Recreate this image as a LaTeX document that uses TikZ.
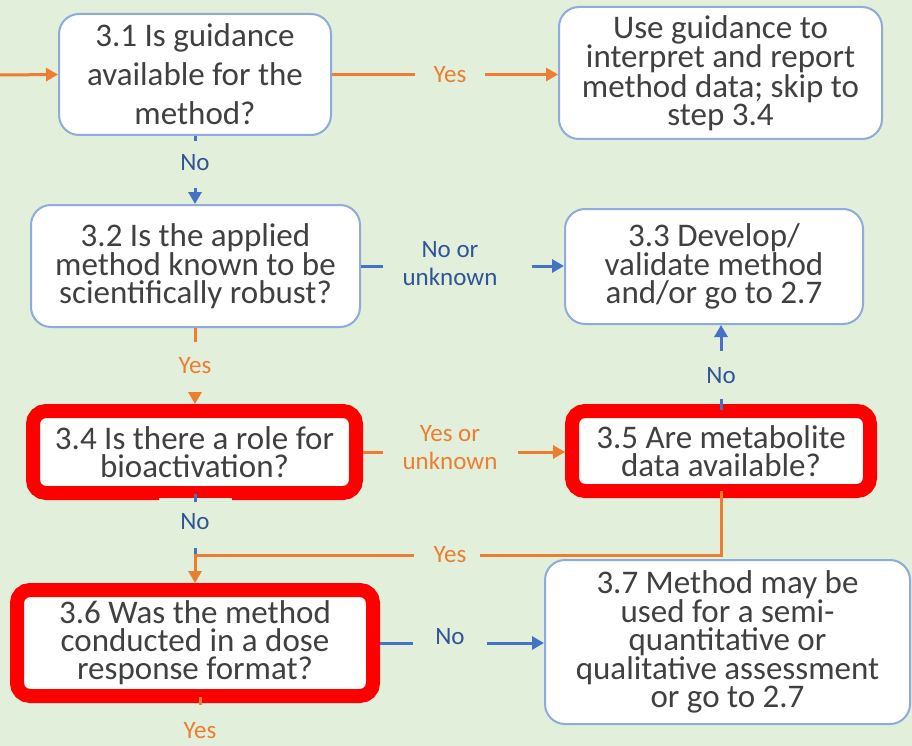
\documentclass[tikz,border=0pt]{standalone}
\usepackage{fontspec}
\setmainfont{Carlito}
\usetikzlibrary{arrows.meta}
\definecolor{bgcol}{HTML}{E2EFDA}
\definecolor{boxline}{HTML}{8FAADC}
\definecolor{txtgray}{HTML}{404040}
\definecolor{orng}{HTML}{ED7D31}
\definecolor{blu}{HTML}{4472C4}
\definecolor{blutxt}{HTML}{2F5597}
\definecolor{hotred}{HTML}{FF0000}

\begin{document}
\begin{tikzpicture}[x=1pt,y=-1pt,
  every node/.style={font=\fontsize{33}{28}\selectfont, text=txtgray, align=center, inner sep=0pt},
  bluebox/.style={draw=boxline, line width=2pt, fill=white, rounded corners=20pt, outer sep=1pt},
  redbox/.style={draw=hotred, line width=14pt, fill=white, rounded corners=13pt, outer sep=7pt},
  olbl/.style={font=\fontsize{25}{28}\selectfont, text=orng},
  blbl/.style={font=\fontsize{25}{28}\selectfont, text=blutxt},
  oline/.style={draw=orng, line width=3pt},
  bline/.style={draw=blu, line width=3pt},
  oarrow/.style={oline, -{Triangle[length=12pt,width=13pt]}},
  barrow/.style={bline, -{Triangle[length=12pt,width=13pt]}},
]
% canvas
\fill[bgcol] (0,0) rectangle (912,746);
\useasboundingbox (0,0) rectangle (912,746);

% decision and action boxes
\node[bluebox, minimum width=272pt, minimum height=121pt,
      font=\fontsize{33}{39}\selectfont] (b31) at (195,74.5)
  {3.1 Is guidance\\available for the\\method?};
\node[bluebox, minimum width=323pt, minimum height=132pt] (bg) at (720.5,73)
  {Use guidance to\\interpret and report\\method data; skip to\\step 3.4};
\node[bluebox, minimum width=329pt, minimum height=122pt] (b32) at (195.5,266)
  {3.2 Is the applied\\method known to be\\scientifically robust?};
\node[bluebox, minimum width=298pt, minimum height=115pt] (b33) at (714,266.5)
  {3.3 Develop/\\validate method\\and/or go to 2.7};
\node[redbox, minimum width=323pt, minimum height=82pt] (b34) at (194.5,452)
  {3.4 Is there a role for\\bioactivation?};
\node[redbox, minimum width=298pt, minimum height=80pt] (b35) at (721,451)
  {3.5 Are metabolite\\data available?};
\node[redbox, minimum width=356pt, minimum height=106pt] (b36) at (195,643)
  {3.6 Was the method\\conducted in a dose\\response format?};
\node[bluebox, minimum width=365pt, minimum height=164pt] (b37) at (727.5,642)
  {3.7 Method may be\\used for a semi-\\quantitative or\\qualitative assessment\\or go to 2.7};

% gap in the lower edge of box 3.4
\fill[bgcol] (159,498) rectangle (232,500.5);

% connector break points
\coordinate (in) at (0,75);
\coordinate (c1a) at (415,74.5);
\coordinate (c1b) at (485,74.5);
\coordinate (c2a) at (195,141);
\coordinate (c2b) at (195,188);
\coordinate (c3a) at (383,266);
\coordinate (c3b) at (532,266);
\coordinate (c4a) at (195,342);
\coordinate (c4b) at (195,392);
\coordinate (c5a) at (383,452);
\coordinate (c5b) at (518,452);
\coordinate (c6a) at (721,399);
\coordinate (c6b) at (721,351);
\coordinate (c7a) at (195,494);
\coordinate (c7b) at (195,548);
\coordinate (c7c) at (195,556);
\coordinate (c8a) at (480,555);
\coordinate (c8b) at (414,555);
\coordinate (c9a) at (413,643);
\coordinate (c9b) at (487,643);
\coordinate (c10a) at (200,697);
\coordinate (c10b) at (200,705);

% branch labels
\node[olbl] (l1) at (450,75) {Yes};
\node[blbl] (l2) at (195,163) {No};
\node[blbl] (l3) at (450,264) {No or\\unknown};
\node[olbl] (l4) at (195,366) {Yes};
\node[olbl] (l5) at (450,448) {Yes or\\unknown};
\node[blbl] (l6) at (721,376) {No};
\node[blbl] (l7) at (195,522) {No};
\node[olbl] (l8) at (450,555) {Yes};
\node[blbl] (l9) at (450,637) {No};
\node[olbl] (l10) at (200,731) {Yes};

% connectors
\draw[oarrow] (in) -- (b31.west);
\draw[oline] (b31.east) -- (c1a);
\draw[oarrow] (c1b) -- (c1b -| bg.west);

\draw[bline] (b31.south) -- (c2a);
\draw[barrow] (c2b) -- (c2b |- b32.north);

\draw[bline] (b32.east) -- (c3a);
\draw[barrow] (c3b) -- (c3b -| b33.west);

\draw[oline] (b32.south -| c4a) -- (c4a);
\draw[oarrow] (c4b) -- (c4b |- b34.north);

\draw[oline] (b34.east) -- (c5a);
\draw[oarrow] (c5b) -- (c5b -| b35.west);

\draw[bline] ([yshift=-6pt]b35.north) -- (c6a);
\draw[barrow] (c6b) -- (c6b |- b33.south);

\draw[bline] (c7a) -- ([yshift=-2pt]c7a |- b34.south);
\draw[bline] (c7b) -- (c7c);

\draw[oline] ([yshift=7pt]b35.south) |- (c8a);
\draw[oarrow] (c8b) -| (b36.north);

\draw[bline] (b36.east) -- (c9a);
\draw[barrow] (c9b) -- (c9b -| b37.west);

\draw[oline] (c10a) -- (c10b);
\end{tikzpicture}
\end{document}
